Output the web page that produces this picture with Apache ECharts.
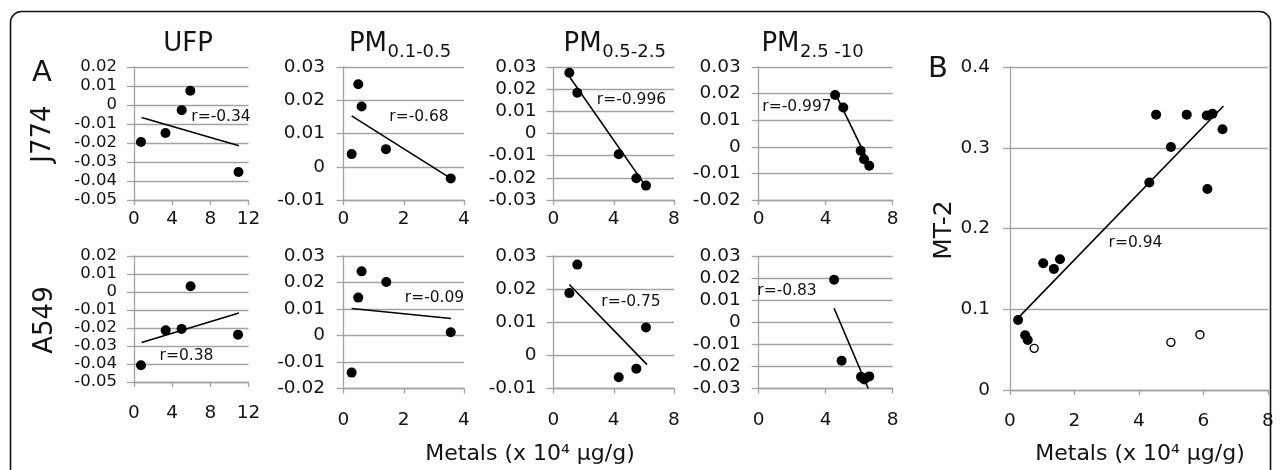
<!DOCTYPE html>
<html><head><meta charset="utf-8">
<script src="https://cdn.jsdelivr.net/npm/echarts@6/dist/echarts.min.js"></script>
<style>html,body{margin:0;padding:0;background:#fff;}#c{width:1281px;height:470px;}</style>
</head><body><div id="c"></div>
<script>
// ---- data ----
const ufpJ774X = [0.73, 3.3, 5.0, 5.9, 10.95];
const ufpJ774Y = [-0.0195, -0.0147, -0.0027, 0.0075, -0.0353];
const ufpJ774FitX = [0.8, 11.0];
const ufpJ774FitY = [-0.0066, -0.0215];

const pm01J774X = [0.27, 0.49, 0.60, 1.41, 3.56];
const pm01J774Y = [0.0038, 0.0248, 0.0181, 0.0053, -0.0035];
const pm01J774FitX = [0.27, 3.56];
const pm01J774FitY = [0.0153, -0.0035];

const pm05J774X = [1.05, 1.58, 4.33, 5.50, 6.14];
const pm05J774Y = [0.0274, 0.0184, -0.0094, -0.0202, -0.0235];
const pm05J774FitX = [0.98, 6.25];
const pm05J774FitY = [0.0264, -0.025];

const pm25J774X = [4.56, 5.05, 6.09, 6.29, 6.60];
const pm25J774Y = [0.0195, 0.0148, -0.0015, -0.0047, -0.0071];
const pm25J774FitX = [4.69, 6.40];
const pm25J774FitY = [0.0185, -0.0037];

const ufpA549X = [0.73, 3.32, 4.99, 5.93, 10.9];
const ufpA549Y = [-0.0407, -0.0213, -0.0205, 0.0032, -0.0237];
const ufpA549FitX = [0.8, 11.0];
const ufpA549FitY = [-0.0281, -0.0117];

const pm01A549X = [0.27, 0.49, 0.60, 1.42, 3.56];
const pm01A549Y = [-0.014, 0.0143, 0.0242, 0.0202, 0.0012];
const pm01A549FitX = [0.27, 3.57];
const pm01A549FitY = [0.0102, 0.0064];

const pm05A549X = [1.05, 1.58, 4.33, 5.50, 6.14];
const pm05A549Y = [0.0188, 0.0274, -0.0066, -0.004, 0.0084];
const pm05A549FitX = [1.05, 6.21];
const pm05A549FitY = [0.0214, -0.0028];

const pm25A549X = [4.5, 4.95, 6.11, 6.30, 6.60];
const pm25A549Y = [0.0194, -0.0174, -0.0247, -0.0259, -0.0245];
const pm25A549FitX = [4.5, 6.54];
const pm25A549FitY = [0.0065, -0.030];

const mt2X = [0.25, 0.47, 0.55, 1.03, 1.36, 1.55, 4.32, 4.53, 4.99, 5.48, 6.10, 6.12, 6.28, 6.59];
const mt2Y = [0.0867, 0.0677, 0.062, 0.157, 0.150, 0.162, 0.257, 0.341, 0.301, 0.341, 0.340, 0.249, 0.342, 0.323];
const mt2OpenX = [0.75, 4.99, 5.89];
const mt2OpenY = [0.0516, 0.059, 0.0685];
const mt2FitX = [0.26, 6.62];
const mt2FitY = [0.0896, 0.3517];

// axis ranges: [min, max, interval]
const xRanges = [[0,12,4],[0,4,2],[0,8,4],[0,8,4],[0,12,4],[0,4,2],[0,8,4],[0,8,4],[0,8,2]];
const yRanges = [[-0.05,0.02,0.01],[-0.01,0.03,0.01],[-0.03,0.03,0.01],[-0.02,0.03,0.01],
                 [-0.05,0.02,0.01],[-0.02,0.03,0.01],[-0.01,0.03,0.01],[-0.03,0.03,0.01],[0,0.4,0.1]];
const rLabels = ['r=-0.34','r=-0.68','r=-0.996','r=-0.997','r=0.38','r=-0.09','r=-0.75','r=-0.83','r=0.94'];
const colTitles = ['UFP', ['PM','0.1-0.5'], ['PM','0.5-2.5'], ['PM','2.5 -10']];
const rowTitles = ['J774', 'A549'];
const xTitle = 'Metals (x 10\u2074 \u00b5g/g)';

const panels = [
  [ufpJ774X, ufpJ774Y, ufpJ774FitX, ufpJ774FitY],
  [pm01J774X, pm01J774Y, pm01J774FitX, pm01J774FitY],
  [pm05J774X, pm05J774Y, pm05J774FitX, pm05J774FitY],
  [pm25J774X, pm25J774Y, pm25J774FitX, pm25J774FitY],
  [ufpA549X, ufpA549Y, ufpA549FitX, ufpA549FitY],
  [pm01A549X, pm01A549Y, pm01A549FitX, pm01A549FitY],
  [pm05A549X, pm05A549Y, pm05A549FitX, pm05A549FitY],
  [pm25A549X, pm25A549Y, pm25A549FitX, pm25A549FitY],
  [mt2X, mt2Y, mt2FitX, mt2FitY]
];

// ---- layout ----
const FONT = 'DejaVu Sans';
const TXT = '#141414';
const GRAY = '#a3a3a3';
const grids = [
  {left:134, top:67, width:114.5, height:133},
  {left:343.5, top:67, width:120.5, height:133},
  {left:553.5, top:67, width:120.5, height:133},
  {left:758.7, top:67, width:134, height:133},
  {left:134, top:256, width:114.5, height:126},
  {left:343.5, top:256, width:120.5, height:132.5},
  {left:553.5, top:256, width:120.5, height:132.5},
  {left:758.7, top:256.5, width:134, height:132},
  {left:1010, top:67, width:258, height:323}
];
const xMargins = [10,10,10,10,22,22,22,22,22];
const yMargins = [17,18.5,17,18,17,18.5,17,18,20];
const yFont = [16.5,18.5,18.5,18.5,16.5,18.5,18.5,18.5,18.5];
const rPos = [[221,117],[419,117],[631.5,100],[797,107],[186.5,356],[434.5,298],[631,302],[787,291],[1135.5,243]];

const xAxis = [], yAxis = [], series = [];
grids.forEach((g, i) => {
  xAxis.push({
    type:'value', gridIndex:i, min:xRanges[i][0], max:xRanges[i][1], interval:xRanges[i][2],
    axisLine:{show:true, onZero:false, lineStyle:{color:GRAY, width:1.3}},
    axisTick:{show:true, inside:false, length:5, lineStyle:{color:GRAY, width:1.3}},
    splitLine:{show:false},
    axisLabel:{fontFamily:FONT, fontSize:18.5, color:TXT, margin:xMargins[i]}
  });
  yAxis.push({
    type:'value', gridIndex:i, min:yRanges[i][0], max:yRanges[i][1], interval:yRanges[i][2],
    axisLine:{show:true, onZero:false, lineStyle:{color:GRAY, width:1.3}},
    axisTick:{show:true, inside:false, length:7, lineStyle:{color:GRAY, width:1.3}},
    splitLine:{show:true, lineStyle:{color:GRAY, width:1.3}},
    axisLabel:{fontFamily:FONT, fontSize:yFont[i], color:TXT, margin:yMargins[i]}
  });
  const p = panels[i];
  series.push({
    type:'line', xAxisIndex:i, yAxisIndex:i, symbol:'none', silent:true,
    lineStyle:{color:'#000', width:1.6}, z:3,
    data:p[2].map((x,k)=>[x,p[3][k]])
  });
  series.push({
    type:'scatter', xAxisIndex:i, yAxisIndex:i, symbolSize:10, z:4,
    itemStyle:{color:'#000', opacity:1},
    data:p[0].map((x,k)=>[x,p[1][k]])
  });
});
series.push({
  type:'scatter', xAxisIndex:8, yAxisIndex:8, symbolSize:8, z:4,
  itemStyle:{color:'#fff', borderColor:'#000', borderWidth:1.4, opacity:1},
  data:mt2OpenX.map((x,k)=>[x,mt2OpenY[k]])
});

const graphic = [
  {type:'rect', shape:{x:10.5, y:11.5, width:1260, height:480, r:11}, style:{fill:'none', stroke:'#111', lineWidth:1.6}, z:-1, silent:true},
  {type:'text', x:42, y:73, style:{text:'A', fontFamily:FONT, fontSize:29, fill:TXT, align:'center', verticalAlign:'middle'}},
  {type:'text', x:938, y:69, style:{text:'B', fontFamily:FONT, fontSize:29, fill:TXT, align:'center', verticalAlign:'middle'}},
  {type:'text', x:43, y:134, rotation:Math.PI/2, style:{text:rowTitles[0], fontFamily:FONT, fontSize:26, fill:TXT, align:'center', verticalAlign:'middle'}},
  {type:'text', x:45, y:320, rotation:Math.PI/2, style:{text:rowTitles[1], fontFamily:FONT, fontSize:26, fill:TXT, align:'center', verticalAlign:'middle'}},
  {type:'text', x:944, y:230, rotation:Math.PI/2, style:{text:'MT-2', fontFamily:FONT, fontSize:25, fill:TXT, align:'center', verticalAlign:'middle'}},
  {type:'text', x:188, y:44, style:{text:colTitles[0], fontFamily:FONT, fontSize:26, fill:TXT, align:'center', verticalAlign:'middle'}},
  {type:'text', x:530, y:454, style:{text:xTitle, fontFamily:FONT, fontSize:22, fill:TXT, align:'center', verticalAlign:'middle'}},
  {type:'text', x:1140, y:454, style:{text:xTitle, fontFamily:FONT, fontSize:22, fill:TXT, align:'center', verticalAlign:'middle'}}
];
const pmPos = [[387,52],[601.7,52],[799.5,52]];
[1,2,3].forEach((c,k) => {
  graphic.push({type:'text', x:pmPos[k][0], y:44, style:{text:colTitles[c][0], fontFamily:FONT, fontSize:26, fill:TXT, align:'right', verticalAlign:'middle'}});
  graphic.push({type:'text', x:pmPos[k][0]+0.5, y:pmPos[k][1], style:{text:colTitles[c][1], fontFamily:FONT, fontSize:18, fill:TXT, align:'left', verticalAlign:'middle'}});
});
rLabels.forEach((t,i) => {
  graphic.push({type:'text', x:rPos[i][0], y:rPos[i][1], z:10, style:{text:t, fontFamily:FONT, fontSize:15.5, fill:TXT, align:'center', verticalAlign:'middle'}});
});

const chart = echarts.init(document.getElementById('c'), null, {renderer:'canvas'});
chart.setOption({
  animation:false,
  backgroundColor:'#fff',
  grid:grids.map(g=>Object.assign({containLabel:false, show:false}, g)),
  xAxis, yAxis, series, graphic
});
</script></body></html>
